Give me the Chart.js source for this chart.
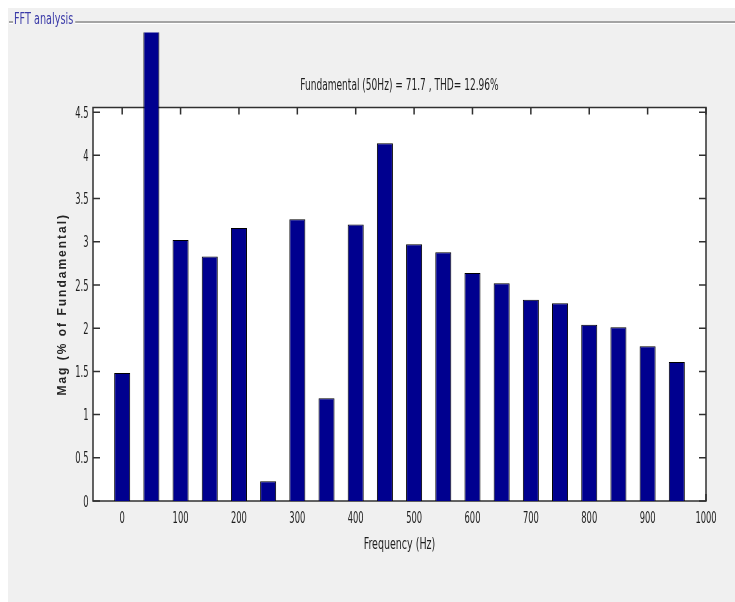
<!DOCTYPE html>
<html><head><meta charset="utf-8">
<script src="https://cdn.jsdelivr.net/npm/chart.js@4/dist/chart.umd.min.js"></script>
<style>
html,body{margin:0;padding:0;background:#fff;overflow:hidden;}
#wrap{position:absolute;left:8px;top:8px;width:727px;height:594px;background:#f0f0f0;}
canvas{display:block;}
</style></head><body>
<div id="wrap"><canvas id="c" width="727" height="594"></canvas></div>
<script>
const panelTitle = 'FFT analysis';
const chartTitle = 'Fundamental (50Hz) = 71.7 , THD= 12.96%';
const xTitle = 'Frequency (Hz)';
const yTitle = 'Mag (% of Fundamental)';
const freqs = [0, 50, 100, 150, 200, 250, 300, 350, 400, 450, 500, 550, 600, 650, 700, 750, 800, 850, 900, 950];
const mags  = [1.48, 100, 3.02, 2.83, 3.16, 0.23, 3.26, 1.19, 3.20, 4.14, 2.97, 2.88, 2.64, 2.52, 2.33, 2.29, 2.04, 2.01, 1.79, 1.61];
const xTicks = [0, 100, 200, 300, 400, 500, 600, 700, 800, 900, 1000];
const yTicks = [0, 0.5, 1, 1.5, 2, 2.5, 3, 3.5, 4, 4.5];

const NARROW = "'Liberation Sans Narrow', 'DejaVu Sans Condensed', 'Arial Narrow', 'Liberation Sans', sans-serif";
Chart.defaults.font.family = NARROW;
Chart.defaults.font.size = 15;
Chart.defaults.color = '#1a1a1a';

// draw horizontally condensed text (the reference uses a very narrow UI font)
function narrowText(ctx, text, x, y, size, sx, align, color) {
  ctx.save();
  ctx.font = size + 'px ' + NARROW;
  ctx.fillStyle = color || '#1e1e1e';
  ctx.textAlign = align || 'center';
  ctx.textBaseline = 'middle';
  ctx.translate(x, y);
  ctx.scale(sx, 1);
  ctx.fillText(text, 0, 0);
  ctx.restore();
}

const frame = {
  id: 'frame',
  beforeDraw(chart) {
    const {ctx, chartArea: a, width} = chart;
    ctx.save();
    ctx.fillStyle = '#f0f0f0';
    ctx.fillRect(0, 0, chart.width, chart.height);
    // group box with label
    ctx.font = '14px ' + NARROW;
    const tw = ctx.measureText(panelTitle).width * 0.77;
    ctx.fillStyle = '#a4a4a4';
    ctx.fillRect(1, 13, 4, 2);
    ctx.fillRect(6 + tw + 2, 13, width - (6 + tw + 2), 2);
    ctx.fillStyle = '#ffffff';
    ctx.fillRect(1, 15, 4, 1);
    ctx.fillRect(6 + tw + 2, 15, width - (6 + tw + 2), 1);
    ctx.restore();
    narrowText(ctx, panelTitle, 6, 12.5, 15, 0.72, 'left', '#3a3aa8');
    ctx.save();
    // plot area
    ctx.fillStyle = '#ffffff';
    ctx.fillRect(a.left, a.top, a.right - a.left, a.bottom - a.top);
    ctx.restore();
  },
  beforeDatasetsDraw(chart) {
    const {ctx, chartArea: a, scales: {x, y}} = chart;
    const tl = 7;
    ctx.save();
    ctx.strokeStyle = '#303030';
    ctx.lineWidth = 1.5;
    ctx.beginPath();
    xTicks.forEach(v => {
      const px = x.getPixelForValue(v);
      ctx.moveTo(px, a.bottom); ctx.lineTo(px, a.bottom - tl);
      ctx.moveTo(px, a.top); ctx.lineTo(px, a.top + tl);
    });
    yTicks.forEach(v => {
      const py = y.getPixelForValue(v);
      ctx.moveTo(a.left, py); ctx.lineTo(a.left + tl, py);
      ctx.moveTo(a.right, py); ctx.lineTo(a.right - tl, py);
    });
    ctx.stroke();
    ctx.strokeRect(a.left, a.top, a.right - a.left, a.bottom - a.top);
    ctx.restore();
  },
  afterDraw(chart) {
    const {ctx, chartArea: a, scales: {x, y}} = chart;
    // tick labels
    xTicks.forEach(v => narrowText(ctx, String(v), x.getPixelForValue(v), a.bottom + 17.5, 16, 0.58, 'center'));
    yTicks.forEach(v => narrowText(ctx, String(v), a.left - 4.5, y.getPixelForValue(v) + 1.5, 16, 0.58, 'right'));
    // titles
    narrowText(ctx, chartTitle, (a.left + a.right) / 2, a.top - 21.5, 15, 0.67, 'center');
    narrowText(ctx, xTitle, (a.left + a.right) / 2, a.bottom + 43.5, 16, 0.66, 'center');
    ctx.save();
    ctx.translate(55, (a.top + a.bottom) / 2);
    ctx.rotate(-Math.PI / 2);
    ctx.font = "bold 12px 'Liberation Sans', Arial, sans-serif";
    ctx.fillStyle = '#262626';
    ctx.textAlign = 'center';
    ctx.textBaseline = 'middle';
    try { ctx.letterSpacing = '2px'; } catch (e) {}
    ctx.fillText(yTitle, 0, 0);
    ctx.restore();
  }
};

new Chart(document.getElementById('c'), {
  type: 'bar',
  data: {
    datasets: [{
      data: freqs.map((f, i) => ({x: f, y: mags[i]})),
      backgroundColor: '#00008f',
      borderColor: '#000000',
      borderWidth: 1,
      borderSkipped: 'bottom',
      categoryPercentage: 1,
      barPercentage: 0.55,
      clip: {left: 0, top: 75, right: 0, bottom: 0}
    }]
  },
  options: {
    responsive: false,
    animation: false,
    layout: {padding: {top: 99.5, left: 0, right: 29, bottom: 0}},
    plugins: {legend: {display: false}, tooltip: {enabled: false}, title: {display: false}},
    scales: {
      x: {
        type: 'linear',
        min: -50, max: 1000,
        offset: false,
        grid: {display: false, drawTicks: false, tickLength: 0},
        border: {display: false},
        afterBuildTicks: s => { s.ticks = xTicks.map(v => ({value: v})); },
        afterFit: s => { s.height = 101; },
        ticks: {display: false, autoSkip: false, maxRotation: 0}
      },
      y: {
        type: 'linear',
        min: 0, max: 4.554,
        grid: {display: false, drawTicks: false, tickLength: 0},
        border: {display: false},
        afterBuildTicks: s => { s.ticks = yTicks.map(v => ({value: v})); },
        afterFit: s => { s.width = 85; },
        ticks: {display: false, autoSkip: false}
      }
    }
  },
  plugins: [frame]
});
</script>
</body></html>
